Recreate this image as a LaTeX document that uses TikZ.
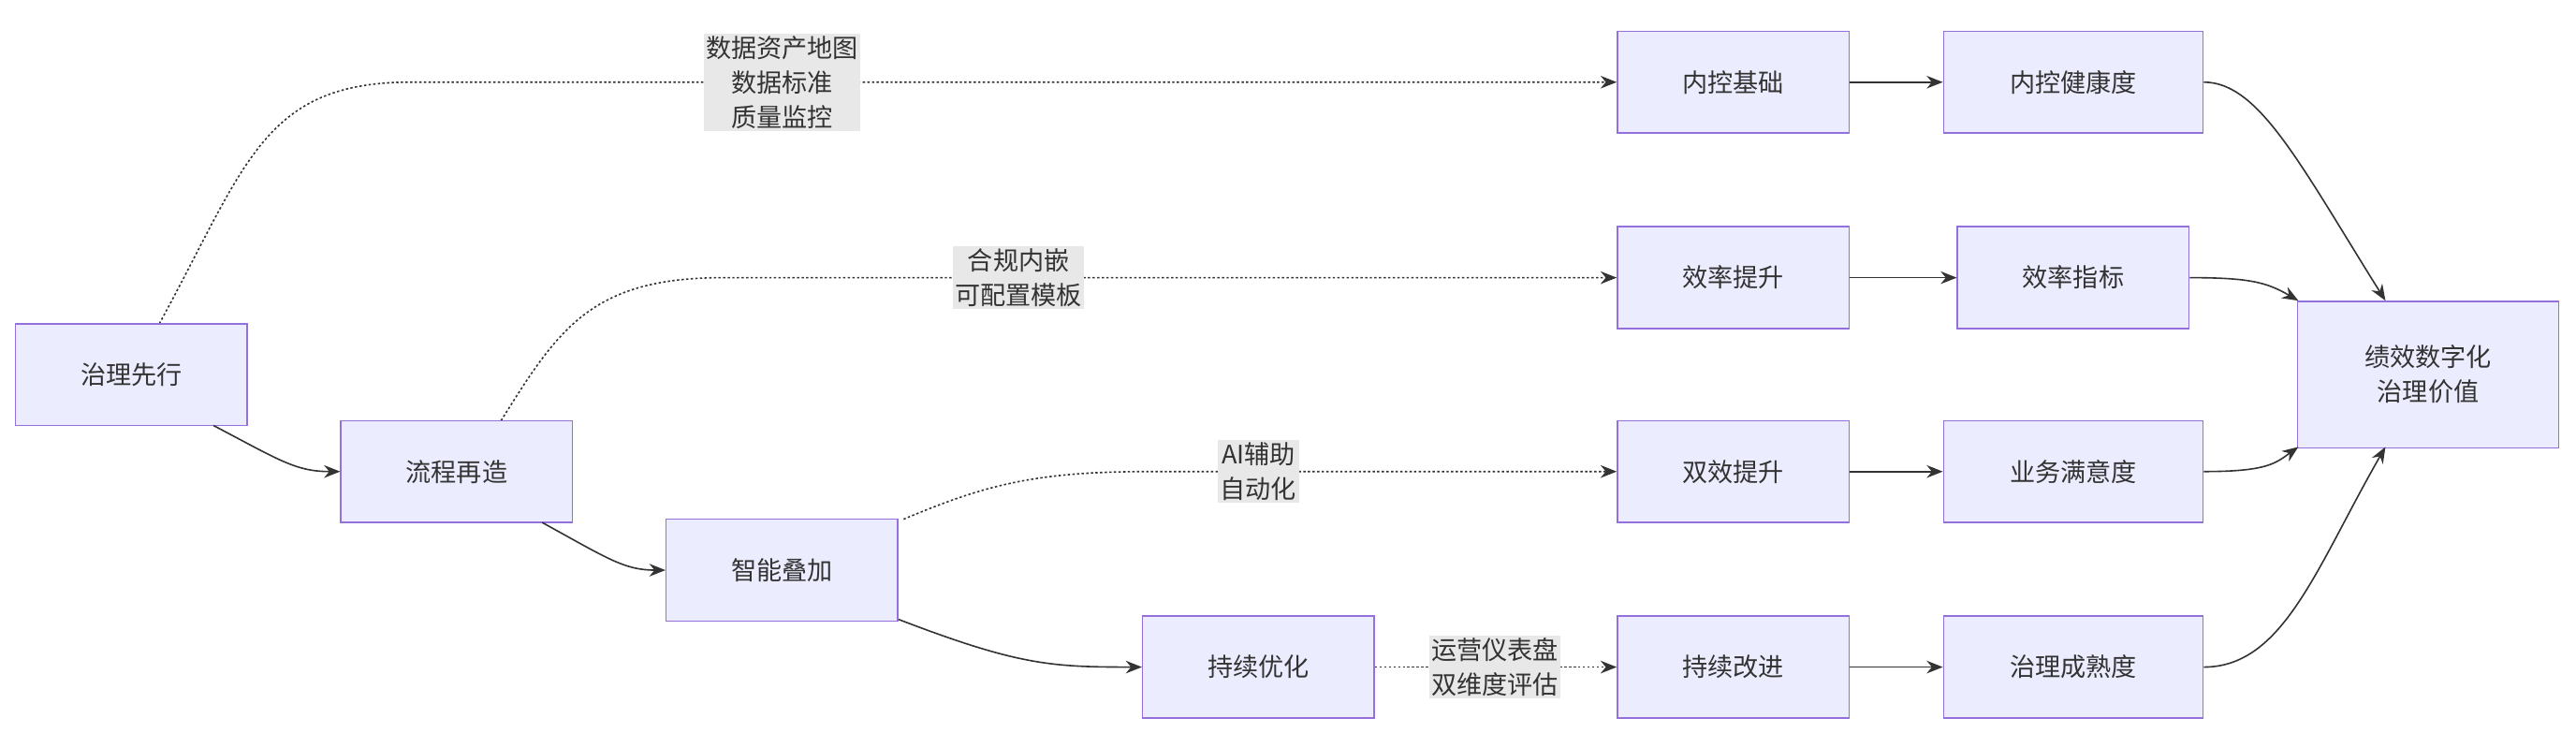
\documentclass[tikz,border=0pt]{standalone}
\usepackage{fontspec}
\setmainfont{Noto Sans CJK SC}
\usetikzlibrary{arrows.meta}
\pgfdeclarelayer{bg}\pgfsetlayers{bg,main}
\definecolor{nfill}{HTML}{ECECFF}
\definecolor{nline}{HTML}{9370DB}
\definecolor{eline}{HTML}{333333}
\definecolor{lfill}{HTML}{E8E8E8}
\begin{document}
\begin{tikzpicture}[x=0.05cm,y=-0.05cm,
 box/.style={draw=nline,fill=nfill,line width=1.2pt,minimum width=7.05cm,minimum height=3.1cm,inner sep=0pt,font=\fontsize{22}{30}\selectfont,text=eline,align=center},
 wbox/.style={box,minimum width=7.9cm},
 lab/.style={fill=lfill,inner sep=2pt,font=\fontsize{22}{30}\selectfont,text=eline,align=center},
 e/.style={draw=eline,line width=1.3pt,-{Stealth[length=14pt,width=11pt]}},
 d/.style={e,dash pattern=on 2pt off 2pt}]
\useasboundingbox (0,0) rectangle (1568,446);
\node[box] (a) at (80,228) {治理先行};
\node[box] (b) at (278,287) {流程再造};
\node[box] (c) at (476,347) {智能叠加};
\node[box] (d) at (766,406) {持续优化};
\node[box] (n1) at (1055,50) {内控基础};
\node[wbox] (n2) at (1262,50) {内控健康度};
\node[box] (x1) at (1055,169) {效率提升};
\node[box] (x2) at (1262,169) {效率指标};
\node[box] (s1) at (1055,287) {双效提升};
\node[wbox] (s2) at (1262,287) {业务满意度};
\node[box] (g1) at (1055,406) {持续改进};
\node[wbox] (g2) at (1262,406) {治理成熟度};
\node[box,minimum width=7.95cm,minimum height=4.45cm] (z) at (1478,228) {绩效数字化\\治理价值};
\node[lab] (l1) at (476,50) {数据资产地图\\数据标准\\质量监控};
\node[lab] (l2) at (620,169) {合规内嵌\\可配置模板};
\node[lab] (l3) at (766,287) {AI辅助\\自动化};
\node[lab] (l4) at (910,406) {运营仪表盘\\双维度评估};
\coordinate (p1) at (97,197); \coordinate (q1) at (250,50);
\coordinate (p2) at (305,256); \coordinate (q2) at (440,169);
\coordinate (p3) at (550,316); \coordinate (q3) at (700,287);
\begin{pgfonlayer}{bg}
\draw[d] (p1) .. controls (150,100) and (160,50) .. (q1) -- (n1.west);
\draw[d] (p2) .. controls (340,200) and (360,169) .. (q2) -- (x1.west);
\draw[d] (p3) .. controls (600,295) and (630,287) .. (q3) -- (s1.west);
\draw[d] (d.east) -- (g1.west);
\end{pgfonlayer}
\draw[e] (130,259) .. controls (170,280) and (180,287) .. (b.west);
\draw[e] (330,318) .. controls (370,340) and (380,347) .. (c.west);
\draw[e] (547,377) .. controls (620,405) and (640,406) .. (d.west);
\draw[e] (n1) -- (n2); \draw[e] (x1) -- (x2); \draw[e] (s1) -- (s2); \draw[e] (g1) -- (g2);
\draw[e] (n2.east) .. controls (1375,50) and (1400,100) .. (1452,183);
\draw[e] (x2.east) .. controls (1370,169) and (1380,172) .. (1399,183);
\draw[e] (s2.east) .. controls (1380,287) and (1385,282) .. (1399,272);
\draw[e] (g2.east) .. controls (1390,406) and (1410,345) .. (1452,272);
\end{tikzpicture}
\end{document}
